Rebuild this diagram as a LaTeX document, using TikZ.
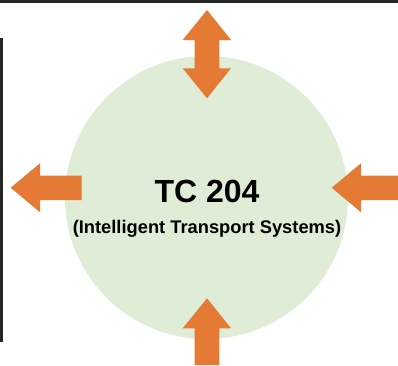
\documentclass[tikz,border=0pt]{standalone}
\usepackage{fontspec}
\setmainfont{Liberation Sans}
\definecolor{tcorange}{HTML}{E47A33}
\definecolor{tcgreen}{HTML}{DFECD6}
\tikzset{blockarrow/.style={fill=tcorange, draw=none},
	frameline/.style={fill=black!85, draw=none}}

\begin{document}
\begin{tikzpicture}[x=1pt,y=-1pt]
	\useasboundingbox (0,0) rectangle (398,365);
	% frame lines at top and left
	\path[frameline] (0,0) rectangle (398,2.5);
	\path[frameline] (0,38) rectangle (3,342);
	% committee circle
	\node[circle, fill=tcgreen, minimum size=283, inner sep=0] (tc) at (206.5,197.5) {};
	\node[font=\bfseries\fontsize{32}{36}\selectfont, anchor=base, inner sep=0] (title) at (207,202) {TC 204};
	\node[font=\bfseries\fontsize{18.3}{21}\selectfont, anchor=base, inner sep=0] (subtitle) at (207,233) {(Intelligent Transport Systems)};
	% arrows
	\path[blockarrow] (207,10) -- (231,40) -- (219.3,40) -- (219.3,68.3) -- (231,68.3) -- (207,98.3)
		-- (182.7,68.3) -- (194.7,68.3) -- (194.7,40) -- (182.7,40) -- cycle;
	\path[blockarrow] (207,298.3) -- (231,328.3) -- (219.3,328.3) -- (219.3,365) -- (194.7,365)
		-- (194.7,328.3) -- (182.7,328.3) -- cycle;
	\path[blockarrow] (10.7,187.7) -- (40,163.3) -- (40,175.7) -- (81.7,175.7) -- (81.7,200)
		-- (40,200) -- (40,212.3) -- cycle;
	\path[blockarrow] (331.7,187.7) -- (361,163.3) -- (361,175.7) -- (398,175.7) -- (398,200)
		-- (361,200) -- (361,212.3) -- cycle;
\end{tikzpicture}
\end{document}
